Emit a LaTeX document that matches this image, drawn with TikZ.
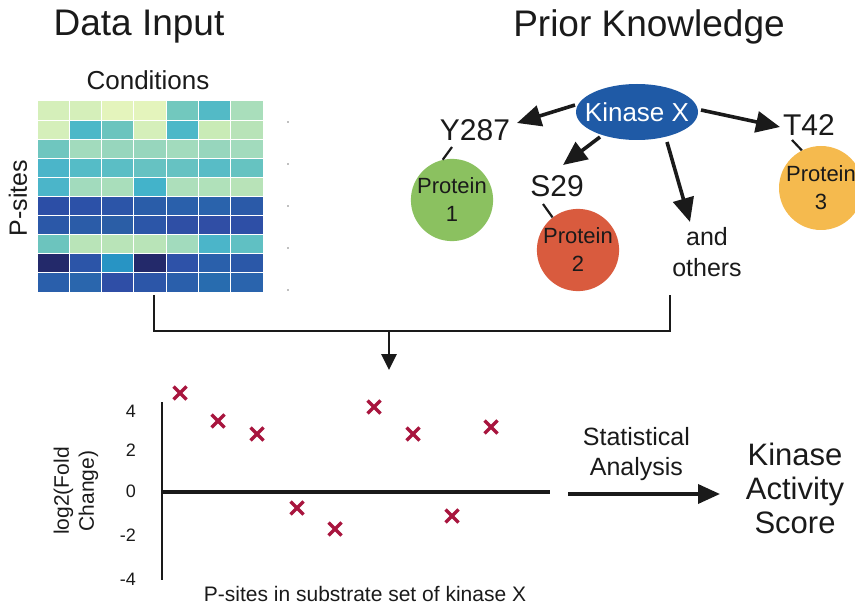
\documentclass[tikz,border=0pt]{standalone}
\usepackage{fontspec}
\setmainfont{Liberation Sans}
\usepackage{xcolor}
\usepackage{tikz}
\usetikzlibrary{shapes.geometric, arrows.meta, positioning, calc}
\definecolor{kinaseblue}{HTML}{1F5AA6}
\definecolor{prot1green}{HTML}{8BC160}
\definecolor{prot2red}{HTML}{D95B3E}
\definecolor{prot3yellow}{HTML}{F5BA4E}
\definecolor{crossred}{HTML}{A8153E}
\definecolor{inkgray}{HTML}{1A1A1A}

\begin{document}
\begin{tikzpicture}[
    x=1pt, y=-1pt,
    every node/.style={text=inkgray},
    heading/.style={font=\fontsize{37}{40}\selectfont},
    site/.style={font=\fontsize{30}{34}\selectfont, inner sep=0pt},
    protein/.style={circle, minimum size=80pt, inner sep=0pt, align=center, font=\fontsize{22}{28}\selectfont},
    arrow/.style={-{Triangle[length=24pt,width=21pt]}, line width=3.6pt, draw=inkgray},
    link/.style={line width=2.2pt, draw=inkgray},
    xmark/.style={draw=crossred, line width=3.2pt},
]
\useasboundingbox (0,0) rectangle (855,607);
\clip (0,0) rectangle (855,607);

% headings
\node[heading] (datahead) at (139,27) {Data Input};
\node[heading] (priorhead) at (649,27) {Prior Knowledge};

% heat map
\node[font=\fontsize{26}{30}\selectfont] (cond) at (148,80) {Conditions};
\node[font=\fontsize{25}{28}\selectfont, rotate=90] (psites) at (18,198) {P-sites};
\foreach \rowcols [count=\r from 0] in {
    {D5EFBA,D5EFBA,E4F4BC,E4F4BC,72C8BE,53BAC6,A9DEBB},
    {D5EFBA,4DB8C8,6CC4BE,D5EFBA,4DB8C8,C9EBB6,B8E3B8},
    {6FC6BF,A2DBBD,97D6BD,97D6BD,A2DBBD,97D6BD,A2DBBD},
    {4BB5C9,55BCC7,5BBEC5,66C2C2,66C2C2,58BCC6,66C3C1},
    {4BB5C9,A2DBBD,A9DEBB,43B3CA,ADDFBB,B0E1BA,B8E3B8},
    {2C4EA6,2C51A8,2C55A8,2A5DA9,2A60AB,2A63AC,2B5AA8},
    {2B58A8,2B5CA8,2B5EA6,2C56A8,2F4FA5,304EA5,2E4FA6},
    {6CC4BE,B9E4B8,B9E4B8,B9E4B8,A2DBBD,4BB5C9,60C0C3},
    {23296A,2C55A8,2894C4,23296A,2E52A8,2A60AB,2B58A8},
    {2A5FAB,2A66AD,2F4EA6,2C56A8,2A5FAB,286CAF,2A64AD}} {
  \foreach \hex [count=\c from 0] in \rowcols {
    \edef\setcell{\noexpand\definecolor{cellcol}{HTML}{\hex}}\setcell
    \filldraw[fill=cellcol, draw=white, line width=1pt]
      ({37+\c*32.3},{101+\r*19.1}) rectangle ++(32.3,19.1);
  }
}
\foreach \ty in {122,164,206,248,290}
  \fill[gray] (288,\ty) circle (0.8);

% prior knowledge
\node[ellipse, fill=kinaseblue, minimum width=122pt, minimum height=56pt, inner sep=0pt] (kinase) at (637,112) {};
\node[text=white, font=\fontsize{26}{28}\selectfont] (kinaselab) at (kinase) {Kinase X};
\node[site] (y287) at (475,130) {Y287};
\node[site] (s29) at (557,186) {S29};
\node[site] (t42) at (809,125) {T42};
\node[align=center, font=\fontsize{25}{31}\selectfont] (others) at (707,252) {and\\others};
\node[protein, fill=prot1green] (p1) at (452,200) {Protein\\1};
\node[protein, fill=prot2red] (p2) at (578,250) {Protein\\2};
\node[protein, fill=prot3yellow, minimum size=84pt] (p3) at (821,188) {Protein\\3};

\draw[arrow] ($(kinase.center)+(-62,-7)$) -- ($(y287.center)+(42,-7)$);
\draw[arrow] ($(kinase.center)+(-37,25)$) -- ($(s29.center)+(6,-21)$);
\draw[arrow] ($(kinase.center)+(30,30)$) -- ($(others.center)+(-17,-30)$);
\draw[arrow] ($(kinase.center)+(64,-2)$) -- ($(t42.center)+(-29,2)$);
\draw[link] ($(y287.center)+(-23,17)$) -- (p1.103);
\draw[link] ($(s29.center)+(-14,18)$) -- (p2.128);
\draw[link] ($(t42.center)+(-17,15)$) -- (p3.117);

% merge into plot
\coordinate (dataout) at (154,295);
\coordinate (priorout) at (670,295);
\coordinate (join) at (389,331);
\coordinate (plottop) at (389,370);
\draw[line width=2.8pt, draw=inkgray] (dataout) -- (dataout |- join) -- (priorout |- join) -- (priorout);
\draw[-{Triangle[length=16pt,width=15pt]}, line width=2.8pt, draw=inkgray] (join) -- (plottop);

% scatter plot
\coordinate (origin) at (162,492);
\draw[line width=2.8pt, draw=inkgray] (162,402) -- (162,580);
\draw[line width=3.4pt, draw=inkgray] (origin) -- (550,492);
\foreach \lab/\ly in {4/411, 2/450, 0/491, -2/535, -4/579}
  \node[anchor=east, font=\fontsize{18}{20}\selectfont, inner sep=0pt] at (136,\ly) {\lab};
\node[rotate=90, align=center, font=\fontsize{21}{25}\selectfont] (ylab) at (76,491) {log2(Fold\\Change)};
\node[font=\fontsize{21}{24}\selectfont] (xlab) at (365,594) {P-sites in substrate set of kinase X};
\foreach \px/\py in {180/393, 218/421, 257/434, 297/508, 335/529, 374/407, 413/434, 452/516, 491/427} {
  \draw[xmark] (\px-6.5,\py-6.5) -- (\px+6.5,\py+6.5);
  \draw[xmark] (\px-6.5,\py+6.5) -- (\px+6.5,\py-6.5);
}

% result
\node[align=center, font=\fontsize{31}{34}\selectfont] (score) at (795,488) {Kinase\\Activity\\Score};
\coordinate (statstart) at (568,494);
\draw[-{Triangle[length=22pt,width=19pt]}, line width=3.6pt, draw=inkgray]
  (statstart) -- node[pos=0.45, above=8pt, align=center, font=\fontsize{25}{30}\selectfont] (statlab) {Statistical\\Analysis}
  ($(score.center)+(-75,6)$);

\end{tikzpicture}
\end{document}
